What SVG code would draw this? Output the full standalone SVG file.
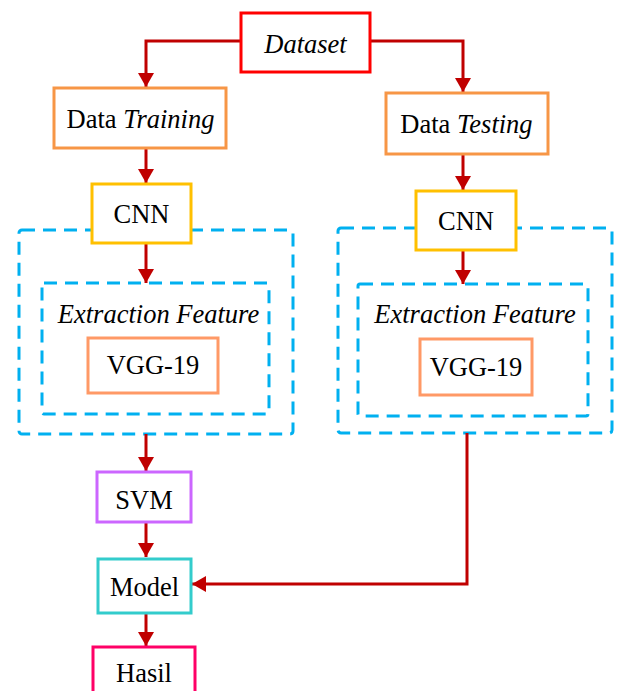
<svg xmlns="http://www.w3.org/2000/svg" width="617" height="691" viewBox="0 0 617 691">
<defs>
<marker id="ah" markerWidth="14" markerHeight="16" refX="14" refY="8" orient="auto" markerUnits="userSpaceOnUse" viewBox="0 0 14 16">
<path d="M0,0 L14,8 L0,16 z" fill="#C00000"/>
</marker>
<style>
text{font-family:'Liberation Serif','Times New Roman',serif;font-size:26.5px;fill:#000;text-anchor:middle}
.it{font-style:italic}
.box{fill:#fff;stroke-width:3}
.dash{fill:none;stroke:#00B0F0;stroke-width:3;stroke-dasharray:13 8}
.con{fill:none;stroke:#C00000;stroke-width:3}
</style>
</defs>
<rect width="617" height="691" fill="#fff"/>
<g id="groups">
<rect class="dash" x="19" y="230" width="274" height="204" rx="3"/>
<rect class="dash" x="42" y="283" width="227" height="131" rx="2"/>
<rect class="dash" x="338" y="228" width="274" height="205" rx="3"/>
<rect class="dash" x="358" y="284" width="230" height="132" rx="2"/>
</g>
<g id="connectors">
<path class="con" d="M241,41 H146 V87" marker-end="url(#ah)"/>
<path class="con" d="M370,41 H463 V92" marker-end="url(#ah)"/>
<path class="con" d="M146,148 V183" marker-end="url(#ah)"/>
<path class="con" d="M463,154 V190" marker-end="url(#ah)"/>
<path class="con" d="M146,243 V283" marker-end="url(#ah)"/>
<path class="con" d="M463,250 V284" marker-end="url(#ah)"/>
<path class="con" d="M146,434 V471" marker-end="url(#ah)"/>
<path class="con" d="M146,522 V557" marker-end="url(#ah)"/>
<path class="con" d="M467,433 V584 H192" marker-end="url(#ah)"/>
<path class="con" d="M146,613 V646" marker-end="url(#ah)"/>
</g>
<g id="dataset">
<rect class="box" x="241" y="13" width="129" height="59" stroke="#FF0000"/>
<text x="305.5" y="53" class="it">Dataset</text>
</g>
<g id="data-training">
<rect class="box" x="54" y="88" width="172" height="60" stroke="#F79646"/>
<text x="140.5" y="128">Data <tspan class="it">Training</tspan></text>
</g>
<g id="data-testing">
<rect class="box" x="386" y="93" width="162" height="61" stroke="#F79646"/>
<text x="466.5" y="133">Data <tspan class="it">Testing</tspan></text>
</g>
<g id="cnn-left">
<rect class="box" x="92" y="184" width="99" height="59" stroke="#FFC000"/>
<text x="141.5" y="223">CNN</text>
</g>
<g id="cnn-right">
<rect class="box" x="416" y="191" width="100" height="59" stroke="#FFC000"/>
<text x="466" y="230">CNN</text>
</g>
<g id="feature-left">
<text x="158.5" y="323" class="it">Extraction Feature</text>
</g>
<g id="feature-right">
<text x="475" y="323" class="it">Extraction Feature</text>
</g>
<g id="vgg-left">
<rect class="box" x="88" y="338" width="130" height="55" stroke="#FF9966"/>
<text x="153" y="374">VGG-19</text>
</g>
<g id="vgg-right">
<rect class="box" x="420" y="339" width="112" height="56" stroke="#FF9966"/>
<text x="476" y="376">VGG-19</text>
</g>
<g id="svm">
<rect class="box" x="97" y="472" width="94" height="50" stroke="#CC66FF"/>
<text x="144" y="509">SVM</text>
</g>
<g id="model">
<rect class="box" x="98" y="559" width="93" height="54" stroke="#33CCCC"/>
<text x="144.5" y="596">Model</text>
</g>
<g id="hasil">
<rect class="box" x="93" y="647" width="102" height="60" stroke="#FF0066"/>
<text x="144" y="682">Hasil</text>
</g>
</svg>
